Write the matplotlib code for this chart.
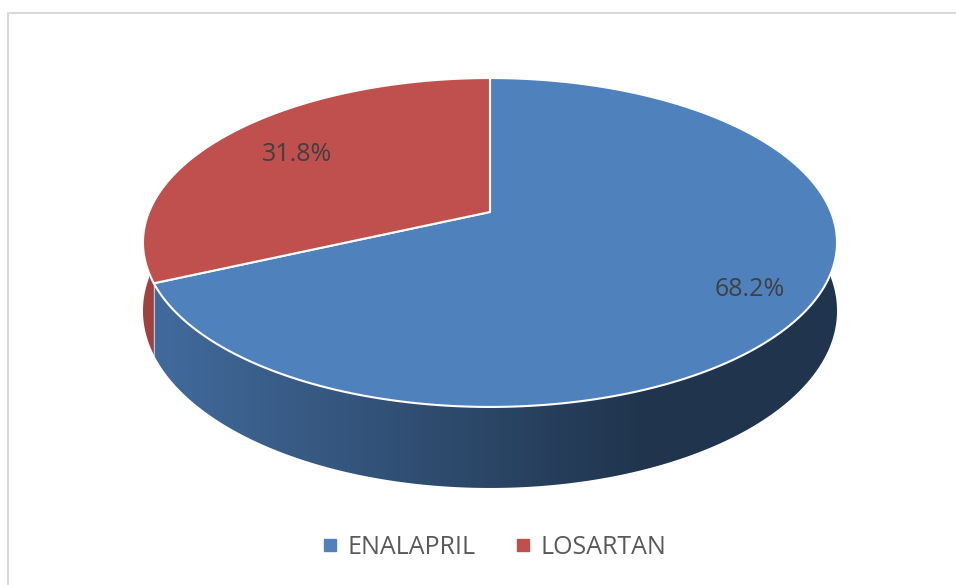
import numpy as np
import matplotlib
matplotlib.use('Agg')
import matplotlib.pyplot as plt
from matplotlib.patches import Polygon
from matplotlib.lines import Line2D
from matplotlib.colors import to_rgb

labels = ['ENALAPRIL', 'LOSARTAN']
values = [68.2, 31.8]
colors = ['#4f81bd', '#c0504d']

plt.rcParams['font.family'] = ['Open Sans', 'DejaVu Sans']

# projection of the tilted disc (pixel space)
cx, cy = 490, 212
A, B, k = 341, 158.8, 0.1854
depth = 66


def proj(t, r=1.0, z=0.0):
    x, y = r * np.cos(t), r * np.sin(t)
    w = 1 + k * y
    return cx + A * x / w, cy - B * y / w + depth * z / w


def gradient_img(color):
    xs = np.arange(956)
    f = np.clip((xs - 150) / (640 - 150), 0, 1)
    fac = 0.83 + (0.41 - 0.83) * f
    rgb = np.array(to_rgb(color))
    return (fac[:, None] * rgb[None, :])[None, :, :]


fig = plt.figure(figsize=(9.56, 5.85), dpi=100)
ax = fig.add_axes([0, 0, 1, 1])

# slice angles: clockwise from 12 o'clock
total = sum(values)
bounds = []
start = np.pi / 2
for v in values:
    end = start - 2 * np.pi * v / total
    bounds.append((end, start))
    start = end


def slice_of(t):
    for i, (a, b) in enumerate(bounds):
        tt = t
        while tt < a:
            tt += 2 * np.pi
        while tt > a + 2 * np.pi:
            tt -= 2 * np.pi
        if a <= tt <= b:
            return i
    return 0


# side wall (front half), one gradient-filled polygon per slice
ts = np.linspace(np.pi, 2 * np.pi, 1000)
ids = [slice_of(t) for t in ts]
runs = []
s = 0
for j in range(1, len(ts) + 1):
    if j == len(ts) or ids[j] != ids[s]:
        runs.append((ids[s], ts[s:j + 1] if j < len(ts) else ts[s:j]))
        s = j
for i, seg in runs:
    top = [proj(t) for t in seg]
    bot = [proj(t, z=1) for t in seg[::-1]]
    poly = Polygon(top + bot, closed=True, facecolor='none', edgecolor='none')
    ax.add_patch(poly)
    im = ax.imshow(gradient_img(colors[i]), extent=(0, 956, 585, 0),
                   aspect='auto', interpolation='bilinear')
    im.set_clip_path(poly)
ax.set_xlim(0, 956)
ax.set_ylim(585, 0)
ax.axis('off')

# boundary between walls
tb = bounds[0][0] + 2 * np.pi
x0, y0 = proj(tb)
x1, y1 = proj(tb, z=1)
ax.plot([x0, x1], [y0, y1], color='white', lw=0.8, alpha=0.6)

# top face
for i, (a, b) in enumerate(bounds):
    tt = np.linspace(a, b, 300)
    pts = [proj(0, r=0)] + [proj(t) for t in tt]
    ax.add_patch(Polygon(pts, closed=True, facecolor=colors[i],
                         edgecolor='white', lw=1.5, joinstyle='round'))

# labels
label_r = [0.83, 0.72]
for i, (a, b) in enumerate(bounds):
    x, y = proj(0.5 * (a + b), r=label_r[i])
    ax.text(x, y, f'{values[i]:.1f}%', ha='center', va='center',
            fontsize=18, color='#404040')

# chart border
ax.plot([8, 8, 955], [590, 13, 13], color='#d9d9d9', lw=1.5, clip_on=False)

handles = [Line2D([], [], marker='s', ls='none', markersize=8,
                  markerfacecolor=c, markeredgecolor=c) for c in colors]
fig.legend(handles, labels, loc='center', bbox_to_anchor=(0.517, 1 - 547 / 585),
           ncol=2, frameon=False, fontsize=18, labelcolor='#595959',
           handlelength=0.6, handletextpad=0.4, columnspacing=1.6)

fig.savefig('out.png', dpi=100)
